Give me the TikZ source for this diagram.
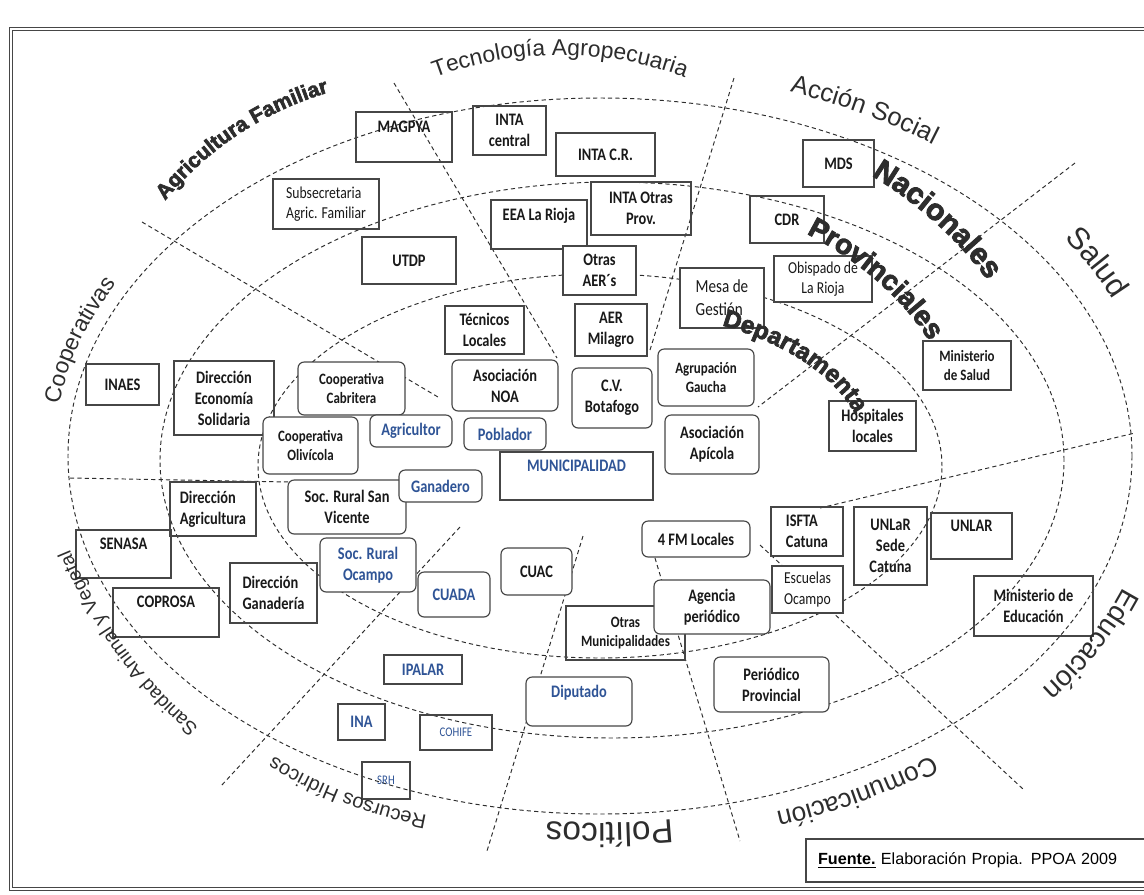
\documentclass[tikz,border=0pt]{standalone}
\usepackage{fontspec}
\setmainfont{Carlito}[FakeStretch=0.82]
\newfontfamily\labelfont{Liberation Sans}
\newfontfamily\heavyfont{Liberation Sans Bold}[FakeBold=3]
\usepackage{xcolor}
\definecolor{Ink}{RGB}{45,45,45}
\definecolor{Frame}{RGB}{70,70,70}
\definecolor{BlueText}{RGB}{47,84,150}
\usetikzlibrary{decorations.text}
\tikzstyle{Ring}=[draw=Ink,line width=.55pt,dash pattern=on 2.4pt off 1.8pt]
\tikzstyle{Box}=[draw=Frame,line width=.65pt,align=center,inner sep=1pt,
text=black!90,font=\bfseries\fontsize{10}{12}\selectfont]
\tikzstyle{RBox}=[Box,rounded corners=3.5pt,fill=white]
\tikzstyle{Thin}=[font=\fontsize{9.5}{11.5}\selectfont]
\tikzstyle{Small}=[font=\bfseries\fontsize{9}{11}\selectfont]
\tikzstyle{Tiny}=[font=\fontsize{7.5}{9}\selectfont]
\tikzstyle{Blue}=[text=BlueText]
\tikzset{Sector/.style={decorate,decoration={text along path,
    text align=center,text color=Ink,text={#1}}}}

\begin{document}
\begin{tikzpicture}[x=.02cm,y=.02cm]
        \useasboundingbox(0,0)rectangle(1144,-894);
        \draw[draw=Frame,double=white,double distance=1.3pt,line width=.5pt]
            (11,-29)rectangle(1160,-889);
        \draw[Ring](600,-456)ellipse[x radius=532,y radius=358];
        \draw[Ring](612,-460)ellipse[x radius=452,y radius=278];
        \draw[Ring](600,-466)ellipse[x radius=342,y radius=192];
        \draw[Ring](394,-83)--(557,-358);
        \draw[Ring](142,-222)--(438,-397);
        \draw[Ring](734,-78)--(650,-350);
        \draw[Ring](1075,-163)--(758,-407);
        \draw[Ring](820,-508)--(1135,-433);
        \draw[Ring](760,-545)--(1023,-789);
        \draw[Ring](655,-558)--(740,-841);
        \draw[Ring](583,-536)--(487,-851);
        \draw[Ring](460,-527)--(221,-786);
        \draw[Ring](70,-478)--(290,-482);
        \node[Box,minimum width=1.92cm,minimum height=1cm](magpya)
            at(404,-137){MAGPYA\\\mbox{}};
        \node[Box,minimum width=1.46cm,minimum height=.98cm](intacentral)
            at(509.5,-130.5){INTA\\central};
        \node[Box,minimum width=1.98cm,minimum height=.86cm](intacr)
            at(605.5,-154.5){INTA C.R.};
        \node[Box,Thin,align=left,minimum width=2.12cm,minimum height=1cm](subsec)
            at(326,-204){Subsecretaria\\Agric. Familiar};
        \node[Box,minimum width=1.42cm,minimum height=.94cm](mds)
            at(838.5,-163.5){MDS};
        \node[Box,minimum width=1.88cm,minimum height=.94cm](utdp)
            at(409,-260.5){UTDP};
        \node[Box,minimum width=1.92cm,minimum height=.98cm](eea)
            at(539,-224.5){EEA La Rioja\\\mbox{}};
        \node[Box,minimum width=2cm,minimum height=1.06cm](intaotras)
            at(641,-208.5){INTA Otras\\Prov.};
        \node[Box,minimum width=1.48cm,minimum height=.94cm](cdr)
            at(787,-219.5){CDR};
        \node[Box,fill=white,minimum width=1.46cm,minimum height=.98cm](otrasaer)
            at(599.5,-270.5){Otras\\AER´s};
        \node[Box,fill=white,align=left,font=\fontsize{10.5}{13}\selectfont,
            minimum width=1.68cm,minimum height=1.2cm](mesa)
            at(722,-298){Mesa de\\Gestión};
        \node[Box,Thin,minimum width=1.96cm,minimum height=.92cm](obispado)
            at(823,-279){Obispado de\\La Rioja};
        \node[Box,minimum width=1.58cm,minimum height=.96cm](tecnicos)
            at(484.5,-330){Técnicos\\Locales};
        \node[Box,minimum width=1.44cm,minimum height=1.04cm](aer)
            at(611,-330){AER\\Milagro};
        \node[Box,Small,minimum width=1.76cm,minimum height=.98cm](minsalud)
            at(967,-365.5){Ministerio\\de Salud};
        \node[Box,minimum width=1.74cm,minimum height=1cm](hospitales)
            at(872.5,-426){Hospitales\\locales};
        \node[Box,minimum width=1.46cm,minimum height=.82cm](inaes)
            at(122.5,-384.5){INAES};
        \node[Box,minimum width=2cm,minimum height=1.48cm](dires)
            at(224,-398){Dirección\\Economía\\Solidaria};
        \node[Box,align=left,minimum width=1.72cm,minimum height=1.08cm](diragr)
            at(213,-509){Dirección\\Agricultura};
        \node[Box,minimum width=1.9cm,minimum height=.96cm](senasa)
            at(123.5,-554){SENASA\\\mbox{}};
        \node[Box,minimum width=2.12cm,minimum height=.98cm](coprosa)
            at(166,-612.5){COPROSA\\\mbox{}};
        \node[Box,align=left,minimum width=1.74cm,minimum height=1.2cm](dirgan)
            at(273.5,-593){Dirección\\Ganadería};
        \node[Box,Blue,minimum width=3.06cm,minimum height=.96cm](municipalidad)
            at(576.5,-476){MUNICIPALIDAD\\\mbox{}};
        \node[Box,Small,minimum width=2.38cm,minimum height=1.08cm](otrasmun)
            at(625.5,-633){Otras\\Municipalidades};
        \node[Box,align=left,minimum width=1.44cm,minimum height=.98cm](isfta)
            at(807,-531.5){ISFTA\\Catuna};
        \node[Box,Thin,fill=white,minimum width=1.42cm,minimum height=.94cm](escuelas)
            at(807.5,-589.5){Escuelas\\Ocampo};
        \node[Box,minimum width=1.46cm,minimum height=1.56cm](unlarsede)
            at(890.5,-546){UNLaR\\Sede\\Catuna};
        \node[Box,minimum width=1.62cm,minimum height=.92cm](unlar)
            at(971.5,-536){UNLAR\\\mbox{}};
        \node[Box,minimum width=2.38cm,minimum height=1.2cm](mineduc)
            at(1033.5,-606){Ministerio de\\Educación};
        \node[Box,Blue,minimum width=1.56cm,minimum height=.58cm](ipalar)
            at(423,-669.5){IPALAR};
        \node[Box,Blue,minimum width=.94cm,minimum height=.72cm](ina)
            at(361.5,-722){INA};
        \node[Box,Blue,Tiny,minimum width=1.44cm,minimum height=.7cm](cohife)
            at(456,-732.5){COHIFE};
        \node[Box,Blue,Tiny,minimum width=.96cm,minimum height=.74cm](srh)
            at(386,-780.5){SRH};
        \node[RBox,Small,minimum width=2.14cm,minimum height=1.06cm](coopcab)
            at(351.5,-388.5){Cooperativa\\Cabritera};
        \node[RBox,Small,minimum width=1.9cm,minimum height=1.14cm](coopoli)
            at(310.5,-445.5){Cooperativa\\Olivícola};
        \node[RBox,Blue,minimum width=1.64cm,minimum height=.64cm](agricultor)
            at(411,-431){Agricultor};
        \node[RBox,minimum width=2.12cm,minimum height=1.02cm](noa)
            at(505,-385.5){Asociación\\NOA};
        \node[RBox,Blue,minimum width=1.64cm,minimum height=.64cm](poblador)
            at(505,-434){Poblador};
        \node[RBox,minimum width=1.6cm,minimum height=1.2cm](botafogo)
            at(612,-398){C.V.\\Botafogo};
        \node[RBox,Small,minimum width=1.92cm,minimum height=1.14cm](gaucha)
            at(706,-377.5){Agrupación\\Gaucha};
        \node[RBox,minimum width=1.88cm,minimum height=1.18cm](apicola)
            at(712,-444.5){Asociación\\Apícola};
        \node[RBox,minimum width=2.36cm,minimum height=1.08cm](srsv)
            at(347,-507){Soc. Rural San\\Vicente};
        \node[RBox,Blue,minimum width=1.66cm,minimum height=.64cm](ganadero)
            at(440.5,-486){Ganadero};
        \node[RBox,Blue,minimum width=1.92cm,minimum height=1.08cm](srocampo)
            at(368,-565){Soc. Rural\\Ocampo};
        \node[RBox,Blue,minimum width=1.44cm,minimum height=.9cm](cuada)
            at(454,-594.5){CUADA};
        \node[RBox,minimum width=1.42cm,minimum height=.94cm](cuac)
            at(536.5,-571.5){CUAC};
        \node[RBox,minimum width=2.16cm,minimum height=.72cm](fm)
            at(696,-539){4 FM Locales};
        \node[RBox,minimum width=2.32cm,minimum height=1.08cm](agencia)
            at(712,-607){Agencia\\periódico};
        \node[RBox,minimum width=2.3cm,minimum height=1.1cm](periodico)
            at(771.5,-684.5){Periódico\\Provincial};
        \node[RBox,Blue,minimum width=2.12cm,minimum height=.98cm](diputado)
            at(579,-701.5){Diputado\\\mbox{}};
        \node[draw=Frame,line width=.65pt,align=left,text width=6.4cm,
            inner xsep=.24cm,minimum height=.86cm,
            font=\labelfont\fontsize{9.2}{11}\selectfont](fuente)
            at(978,-860.5){\underline{\textbf{Fuente.}} Elaboración Propia. PPOA 2009};
        \path[Sector={|\heavyfont\fontsize{12}{12}\selectfont|Agricultura Familiar}]
            (422,-411)++(155:332)arc[start angle=155,end angle=92,radius=332];
        \path[Sector={|\labelfont\fontsize{13}{13}\selectfont|Tecnología Agropecuaria}]
            (560,-410)++(120:355)arc[start angle=120,end angle=60,radius=355];
        \path[Sector={|\labelfont\fontsize{14.5}{14.5}\selectfont|Acción Social}]
            (600,-456)++(81.2:561 and 387)
            arc[start angle=81.2,end angle=41.2,x radius=561,y radius=387];
        \path[Sector={|\labelfont\fontsize{17.5}{17.5}\selectfont|Salud}]
            (600,-456)++(43.4:561 and 387)
            arc[start angle=43.4,end angle=13.4,x radius=561,y radius=387];
        \path[Sector={|\labelfont\fontsize{13}{13}\selectfont|Cooperativas}]
            (600,-456)++(182.9:546 and 372)
            arc[start angle=182.9,end angle=142.9,x radius=546,y radius=372];
        \path[Sector={|\labelfont\fontsize{11}{11}\selectfont|Sanidad Animal y Vegetal}]
            (504,-370)++(245:470)arc[start angle=245,end angle=187,radius=470];
        \path[Sector={|\labelfont\fontsize{11.5}{11.5}\selectfont|Recursos Hídricos}]
            (509,-373)++(275:450)arc[start angle=275,end angle=223,radius=450];
        \path[Sector={|\labelfont\fontsize{19}{19}\selectfont|Políticos}]
            (600,-456)++(286:541 and 367)
            arc[start angle=286,end angle=256,x radius=541,y radius=367];
        \path[Sector={|\labelfont\fontsize{15}{15}\selectfont|Comunicación}]
            (600,-456)++(318.6:550 and 376)
            arc[start angle=318.6,end angle=278.6,x radius=550,y radius=376];
        \path[Sector={|\labelfont\fontsize{16}{16}\selectfont|Educación}]
            (600,-456)++(350:557 and 383)
            arc[start angle=350,end angle=314,x radius=557,y radius=383];
        \path[Sector={|\heavyfont\fontsize{17}{17}\selectfont|Nacionales}]
            (600,-456)++(56:447 and 353)
            arc[start angle=56,end angle=26,x radius=447,y radius=353];
        \path[Sector={|\heavyfont\fontsize{16}{16}\selectfont|Provinciales}]
            (600,-456)++(59.85:364 and 270)
            arc[start angle=59.85,end angle=19.85,x radius=364,y radius=270];
        \path[Sector={|\heavyfont\fontsize{14}{14}\selectfont|Departamenta}]
            (600,-456)++(68:266 and 147)
            arc[start angle=68,end angle=8,x radius=266,y radius=147];
    \end{tikzpicture}
\end{document}
